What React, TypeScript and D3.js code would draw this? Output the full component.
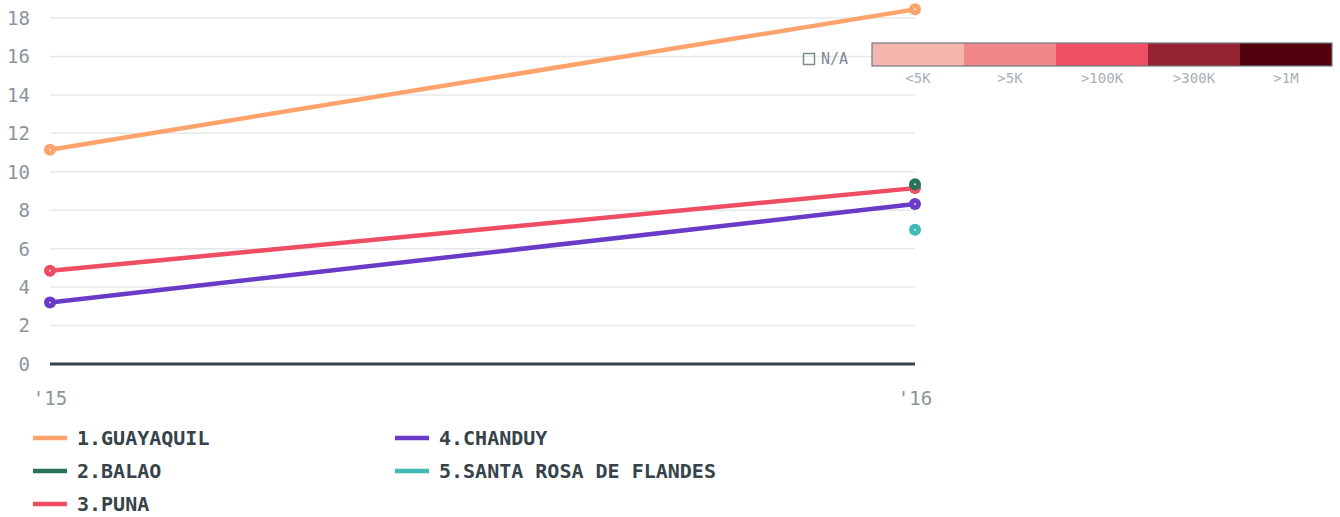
import React, { useEffect, useRef } from "react";
import * as d3 from "d3";

const years = ["2015", "2016"];
const yearLabels = ["'15", "'16"];
const yTicks = [0, 2, 4, 6, 8, 10, 12, 14, 16, 18];

const seriesNames = ["1.GUAYAQUIL", "2.BALAO", "3.PUNA", "4.CHANDUY", "5.SANTA ROSA DE FLANDES"];
const seriesColors = ["#ffa36c", "#2b7358", "#ee4d64", "#6a3ac8", "#3fbab7"];
const guayaquil = [11.15, 18.45];
const balao = [null, 9.35];
const puna = [4.85, 9.15];
const chanduy = [3.2, 8.32];
const santaRosa = [null, 6.98];
const seriesValues = [guayaquil, balao, puna, chanduy, santaRosa];

const scaleLabels = ["<5K", ">5K", ">100K", ">300K", ">1M"];
const scaleColors = ["#f4b6ae", "#f08789", "#ef5064", "#952330", "#52000b"];

const MONO = "'DejaVu Sans Mono', monospace";

function Chart() {
  const ref = useRef<SVGSVGElement>(null);

  useEffect(() => {
    const svg = d3.select(ref.current);
    svg.selectAll("*").remove();

    const x = d3.scalePoint().domain(years).range([50, 915]);
    const y = d3.scaleLinear().domain([0, 18]).range([364, 18]);

    // grid
    svg.append("g")
      .selectAll("line")
      .data(yTicks.filter(t => t !== 0))
      .join("line")
      .attr("x1", 50)
      .attr("x2", 915)
      .attr("y1", d => y(d))
      .attr("y2", d => y(d))
      .attr("stroke", "#e8e8e8")
      .attr("stroke-width", 1.5);

    svg.append("g")
      .selectAll("text")
      .data(yTicks)
      .join("text")
      .attr("x", 30)
      .attr("y", d => y(d))
      .attr("dy", "0.36em")
      .attr("text-anchor", "end")
      .attr("fill", "#8a959b")
      .style("font-family", MONO)
      .style("font-size", "19px")
      .text(d => d);

    // baseline
    svg.append("line")
      .attr("x1", 50)
      .attr("x2", 915)
      .attr("y1", y(0))
      .attr("y2", y(0))
      .attr("stroke", "#36434a")
      .attr("stroke-width", 3);

    svg.append("g")
      .selectAll("text")
      .data(years)
      .join("text")
      .attr("x", d => x(d)!)
      .attr("y", 398)
      .attr("dy", "0.36em")
      .attr("text-anchor", "middle")
      .attr("fill", "#8a959b")
      .style("font-family", MONO)
      .style("font-size", "19px")
      .text((d, i) => yearLabels[i]);

    const line = d3.line<number | null>()
      .defined(d => d !== null)
      .x((d, i) => x(years[i])!)
      .y(d => y(d as number));

    // drawn last-to-first so earlier series sit on top
    for (let s = seriesValues.length - 1; s >= 0; s--) {
      const vals = seriesValues[s];
      const g = svg.append("g");
      g.append("path")
        .attr("d", line(vals))
        .attr("fill", "none")
        .attr("stroke", seriesColors[s])
        .attr("stroke-width", 4.5);
      const pts = vals.map((v, i) => ({ v, i })).filter(p => p.v !== null);
      g.selectAll("circle.dot")
        .data(pts)
        .join("circle")
        .attr("cx", p => x(years[p.i])!)
        .attr("cy", p => y(p.v as number))
        .attr("r", 6)
        .attr("fill", seriesColors[s]);
      g.selectAll("circle.c")
        .data(pts)
        .join("circle")
        .attr("cx", p => x(years[p.i])!)
        .attr("cy", p => y(p.v as number))
        .attr("r", 1)
        .attr("fill", "#fff")
        .attr("opacity", 0.8);
    }

    // series legend
    const leg = svg.append("g");
    seriesNames.forEach((name, i) => {
      const col = i < 3 ? 0 : 1;
      const row = i < 3 ? i : i - 3;
      const lx = col === 0 ? 33 : 395;
      const ly = 438 + row * 33;
      leg.append("line")
        .attr("x1", lx)
        .attr("x2", lx + 34)
        .attr("y1", ly)
        .attr("y2", ly)
        .attr("stroke", seriesColors[i])
        .attr("stroke-width", 4.5);
      leg.append("text")
        .attr("x", lx + 44)
        .attr("y", ly)
        .attr("dy", "0.36em")
        .attr("fill", "#36434a")
        .style("font-family", MONO)
        .style("font-weight", "bold")
        .style("font-size", "20px")
        .text(name);
    });

    // color scale legend
    const sx = d3.scaleBand().domain(scaleLabels).range([872, 1332]);
    const cl = svg.append("g");
    cl.append("rect")
      .attr("x", 803.5)
      .attr("y", 53.5)
      .attr("width", 11)
      .attr("height", 11)
      .attr("fill", "none")
      .attr("stroke", "#7d8a91")
      .attr("stroke-width", 1.5);
    cl.append("text")
      .attr("x", 821)
      .attr("y", 59)
      .attr("dy", "0.36em")
      .attr("fill", "#7d8a91")
      .style("font-family", MONO)
      .style("font-size", "15px")
      .text("N/A");
    cl.selectAll("rect.seg")
      .data(scaleLabels)
      .join("rect")
      .attr("x", d => sx(d)!)
      .attr("y", 43)
      .attr("width", sx.bandwidth())
      .attr("height", 23)
      .attr("fill", (d, i) => scaleColors[i]);
    cl.append("rect")
      .attr("x", 872)
      .attr("y", 43)
      .attr("width", 460)
      .attr("height", 23)
      .attr("fill", "none")
      .attr("stroke", "#6f7b82")
      .attr("stroke-width", 1.2);
    cl.selectAll("text.lab")
      .data(scaleLabels)
      .join("text")
      .attr("x", d => sx(d)! + sx.bandwidth() / 2)
      .attr("y", 78)
      .attr("dy", "0.36em")
      .attr("text-anchor", "middle")
      .attr("fill", "#a7b0b5")
      .style("font-family", MONO)
      .style("font-size", "14px")
      .text(d => d);
  }, []);

  return <svg ref={ref} width={1340} height={517} style={{ display: "block" }}></svg>;
}

export default function App() {
  return (
    <div style={{ position: "absolute", left: 0, top: 0, width: 1340, height: 517, overflow: "hidden" }}>
      <Chart />
    </div>
  );
}
